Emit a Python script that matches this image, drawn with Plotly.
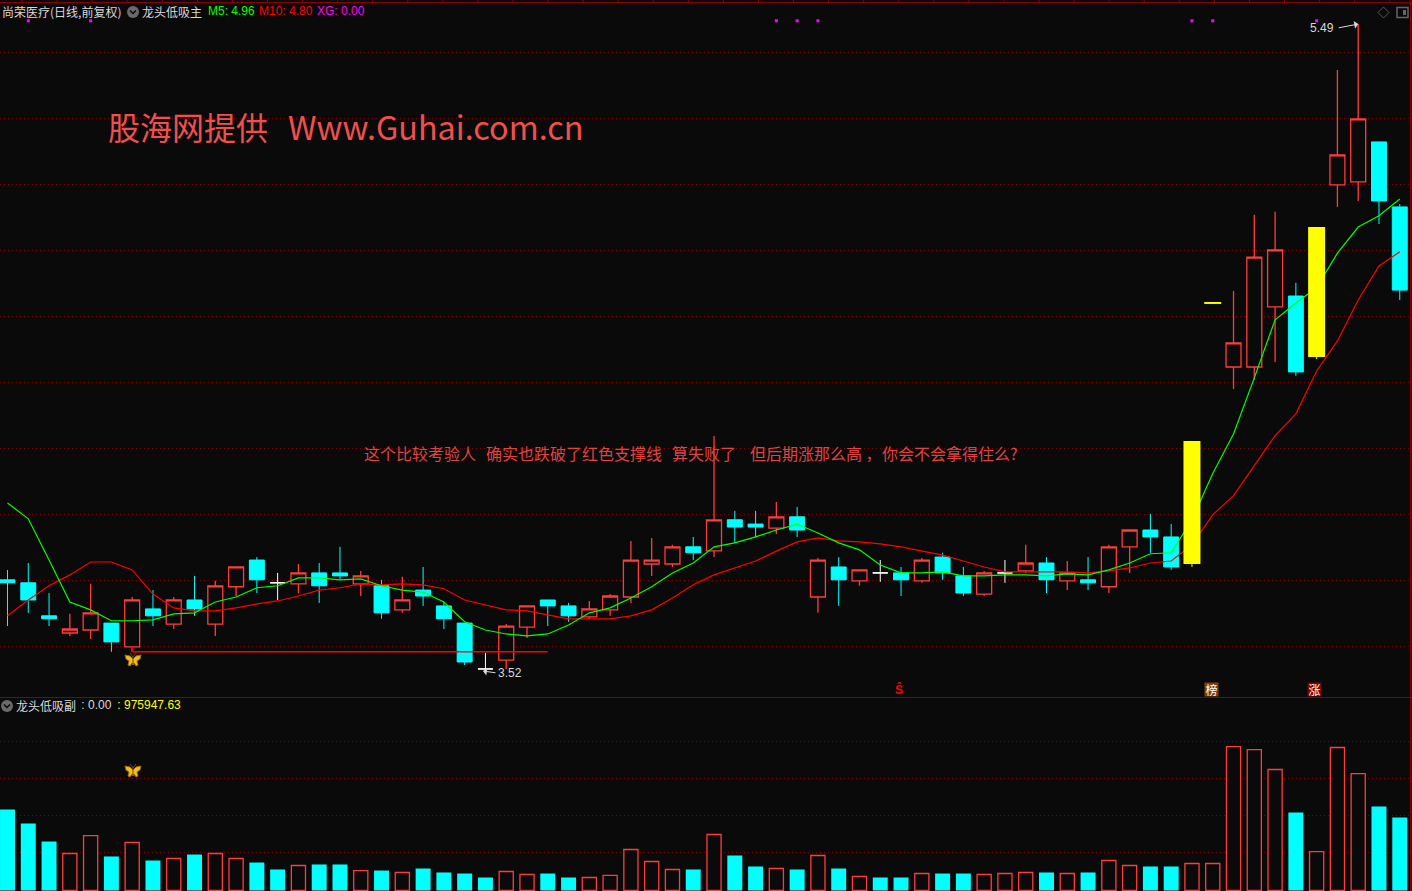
import plotly.graph_objects as go

W, H = 1412, 891
BG = "#0a0a0a"
RED = "#ff3c3c"
CYAN = "#00ffff"
YEL = "#ffff00"
GRID = "#7a0000"

# ---- daily prices ----
opens = [3.799,3.790,3.690,3.638,3.647,3.668,3.596,3.711,3.665,3.738,3.665,3.778,3.859,3.790,3.787,3.820,3.820,3.787,3.781,3.708,
         3.768,3.720,3.668,3.529,3.556,3.656,3.738,3.720,3.687,3.708,3.747,3.847,3.847,3.899,3.887,3.981,3.968,3.956,3.990,3.747,
         3.838,3.796,3.820,3.820,3.796,3.868,3.811,3.756,3.820,3.826,3.850,3.796,3.799,3.778,3.899,3.950,3.929,3.847,4.635,4.444,
         4.444,4.626,4.659,4.474,4.996,5.005,5.126,4.929]
highs = [3.829,3.850,3.759,3.696,3.787,3.668,3.747,3.768,3.747,3.811,3.796,3.838,3.868,3.820,3.847,3.850,3.899,3.826,3.799,3.808,
         3.838,3.732,3.668,3.578,3.665,3.720,3.738,3.729,3.735,3.756,3.917,3.926,3.905,3.929,4.235,4.008,4.008,4.035,4.020,3.865,
         3.868,3.829,3.859,3.838,3.865,3.881,3.838,3.826,3.859,3.905,3.868,3.856,3.868,3.905,3.950,3.999,3.968,4.220,4.641,4.674,
         4.905,4.914,4.699,4.868,5.344,5.483,5.126,4.938]
lows  = [3.659,3.699,3.659,3.629,3.620,3.581,3.581,3.659,3.650,3.690,3.629,3.750,3.759,3.738,3.759,3.729,3.799,3.750,3.681,3.699,
         3.720,3.650,3.541,3.520,3.529,3.623,3.659,3.672,3.681,3.690,3.729,3.811,3.838,3.859,3.868,3.911,3.929,3.938,3.929,3.699,
         3.720,3.781,3.793,3.750,3.790,3.799,3.750,3.750,3.790,3.820,3.759,3.768,3.768,3.759,3.820,3.881,3.829,3.838,4.635,4.377,
         4.405,4.459,4.417,4.468,4.929,4.947,4.877,4.647]
closes = [3.790,3.738,3.681,3.650,3.699,3.611,3.738,3.690,3.738,3.711,3.781,3.838,3.799,3.790,3.820,3.781,3.811,3.811,3.699,3.738,
          3.750,3.681,3.550,3.529,3.659,3.720,3.720,3.690,3.711,3.750,3.859,3.859,3.899,3.881,3.981,3.959,3.959,3.990,3.950,3.859,
          3.799,3.829,3.820,3.799,3.859,3.820,3.759,3.820,3.820,3.850,3.799,3.820,3.790,3.899,3.950,3.929,3.838,4.220,4.641,4.517,
          4.777,4.799,4.429,4.868,5.087,5.196,4.947,4.677]

m5 = [4.032,3.984,3.859,3.732,3.708,3.675,3.675,3.678,3.696,3.699,3.732,3.747,3.775,3.781,3.805,3.805,3.799,3.802,3.781,3.768,
      3.762,3.732,3.672,3.647,3.635,3.629,3.635,3.662,3.699,3.714,3.744,3.778,3.820,3.850,3.899,3.911,3.929,3.950,3.968,3.941,
      3.911,3.890,3.844,3.820,3.820,3.823,3.811,3.811,3.814,3.814,3.811,3.817,3.814,3.829,3.850,3.878,3.881,3.981,4.121,4.241,
      4.411,4.587,4.638,4.684,4.789,4.868,4.902,4.953]
m10 = [3.690,3.738,3.781,3.814,3.853,3.853,3.829,3.756,3.714,3.705,3.705,3.714,3.726,3.735,3.750,3.768,3.775,3.787,3.784,3.787,
       3.784,3.772,3.738,3.723,3.708,3.705,3.693,3.681,3.681,3.681,3.690,3.708,3.744,3.784,3.814,3.835,3.856,3.886,3.914,3.926,
       3.917,3.914,3.908,3.899,3.886,3.874,3.856,3.838,3.823,3.823,3.823,3.823,3.820,3.826,3.835,3.850,3.856,3.905,3.996,4.054,
       4.145,4.236,4.302,4.432,4.523,4.647,4.750,4.793]

# ---- lower panel: volume, in units of 10,000 ----
volumes = [108.3,89.6,65.5,49.5,73.5,45.5,64.2,40.1,42.8,48.1,49.5,42.8,37.4,28.1,33.4,34.8,34.8,26.7,26.7,24.1,
           29.4,24.1,22.7,17.4,25.4,21.4,22.7,17.4,17.4,20.1,54.8,38.8,28.1,28.1,74.9,46.8,32.1,29.4,28.1,46.8,
           29.4,18.7,17.4,17.4,22.7,22.7,22.7,21.4,22.7,24.1,24.1,22.7,24.1,40.1,33.4,32.1,32.1,36.1,36.1,192.5,
           188.5,161.8,104.3,52.1,191.2,156.4,112.3,97.6]
vol_up = [0,0,0,1,1,0,1,0,1,0,1,1,0,0,1,0,0,1,0,1,0,0,0,0,1,1,0,0,1,1,1,1,1,0,1,0,0,1,0,1,0,1,0,0,1,0,0,1,1,1,0,1,0,1,1,0,0,1,1,1,1,1,0,1,1,1,0,0]

# ---- signals ----
yellow_days = [57, 58, 63]
xg_days = [1, 4, 37, 38, 39, 57, 58, 63]
xg_level = 5.493
support_days = [6, 6, 26]
support_vals = [3.596, 3.581, 3.581]
price_grid = [3.596, 3.796, 3.996, 4.196, 4.396, 4.596, 4.796, 4.996, 5.196, 5.396]
vol_grid = [50.8, 100.3, 149.7, 199.2]
S_day = 43

days = list(range(len(closes)))

def pick(idx, arr):
    return [arr[i] for i in idx]

def candle(idx, line, fill, lw=1):
    return go.Candlestick(x=idx, open=pick(idx, opens), high=pick(idx, highs), low=pick(idx, lows), close=pick(idx, closes),
                          increasing=dict(line=dict(color=line, width=lw), fillcolor=fill),
                          decreasing=dict(line=dict(color=line, width=lw), fillcolor=fill),
                          whiskerwidth=0, xaxis="x", yaxis="y", hoverinfo="skip", showlegend=False)

reg = [i for i in days if i not in yellow_days]
up_idx = [i for i in reg if closes[i] > opens[i]]
down_idx = [i for i in reg if closes[i] < opens[i]]
flat_idx = [i for i in reg if closes[i] == opens[i]]

fig = go.Figure()
fig.add_trace(candle(up_idx, RED, BG, 1.3))
fig.add_trace(candle(down_idx, CYAN, CYAN))
fig.add_trace(candle(flat_idx, "#ffffff", "#ffffff"))

fig.add_trace(go.Scatter(x=days, y=m10, mode="lines", line=dict(color="#ff0000", width=1.2), xaxis="x", yaxis="y", hoverinfo="skip"))
fig.add_trace(go.Scatter(x=days, y=m5, mode="lines", line=dict(color="#00ff00", width=1.2), xaxis="x", yaxis="y", hoverinfo="skip"))
fig.add_trace(go.Scatter(x=support_days, y=support_vals, mode="lines", line=dict(color="#ff0000", width=1.5), xaxis="x", yaxis="y", hoverinfo="skip"))

# yellow candles sit on top of the average lines
yx, yy, wx, wy = [], [], [], []
for i in yellow_days:
    yx += [i, i, None]
    yy += [opens[i], closes[i], None]
    wx += [i, i, None]
    wy += [lows[i], highs[i], None]
fig.add_trace(go.Scatter(x=wx, y=wy, mode="lines", line=dict(color=YEL, width=1), xaxis="x", yaxis="y", hoverinfo="skip"))
fig.add_trace(go.Scatter(x=yx, y=yy, mode="lines", line=dict(color=YEL, width=17), xaxis="x", yaxis="y", hoverinfo="skip"))

fig.add_trace(go.Scatter(x=xg_days, y=[xg_level] * len(xg_days), mode="markers",
                         marker=dict(symbol="square", size=3, color="#ff00ff", line=dict(width=0)),
                         xaxis="x", yaxis="y", hoverinfo="skip"))

# lower panel
fig.add_trace(go.Bar(x=days, y=volumes, width=[0.68 if u else 0.72 for u in vol_up],
                     marker=dict(color=[BG if u else CYAN for u in vol_up],
                                 line=dict(color=[RED if u else CYAN for u in vol_up], width=[1.3 if u else 0 for u in vol_up])),
                     xaxis="x2", yaxis="y2", hoverinfo="skip"))

PX0, PXS = 7.5, 20.78
xr = [(0 - PX0) / PXS, (W - PX0) / PXS]

def px(x):
    return x / W

def py(y):
    return 1 - y / H

ann = []
def label(x, y, text, color, size=12, family="Noto Sans CJK SC", **kw):
    d = dict(x=px(x - 2), y=py(y - size / 16), xref="paper", yref="paper", text=text, showarrow=False,
             font=dict(color=color, size=size, family=family), xanchor="left", yanchor="middle")
    d.update(kw)
    ann.append(d)

LAT = "Liberation Sans"
label(2, 12, "尚荣医疗(日线,前复权)", "#d8d8d8")
label(142, 12, "龙头低吸主", "#d8d8d8")
label(208, 12, "M5: 4.96", "#00ff00", family=LAT)
label(259, 12, "M10: 4.80", "#ff0000", family=LAT)
label(317, 12, "XG: 0.00", "#ff00ff", family=LAT)
label(16, 706, "龙头低吸副", "#d8d8d8")
label(78, 706, " : 0.00", "#d8d8d8", family=LAT)
label(114, 706, " : 975947.63", YEL, family=LAT)
label(108, 128, "股海网提供", "#f0504c", size=32)
label(288, 128, "Www.Guhai.com.cn", "#f0504c", size=32.4)
label(364, 454, "这个比较考验人", "#e0443f", size=16)
label(486, 454, "确实也跌破了红色支撑线", "#e0443f", size=16)
label(672, 454, "算失败了", "#e0443f", size=16)
label(750, 454, "但后期涨那么高 ，", "#e0443f", size=16)
label(882, 454, "你会不会拿得住么?", "#e0443f", size=16)
label(498, 674, "3.52", "#d8d8d8", family=LAT)
label(1310, 29, "5.49", "#d8d8d8", family=LAT)
ann.append(dict(x=px(483), y=py(671), xref="paper", yref="paper", ax=14, ay=2, axref="pixel", ayref="pixel",
                text="", showarrow=True, arrowhead=1, arrowsize=1.3, arrowwidth=1, arrowcolor="#d8d8d8"))
ann.append(dict(x=65, y=5.483, xref="x", yref="y", ax=-21, ay=4, axref="pixel", ayref="pixel",
                text="", showarrow=True, arrowhead=1, arrowsize=1.3, arrowwidth=1, arrowcolor="#d8d8d8"))
ann.append(dict(x=S_day, y=3.466, xref="x", yref="y", text="<b>Ŝ</b>", showarrow=False, xshift=-2,
                font=dict(color="#ff0000", size=12, family=LAT)))
for d, t, c, xs in [(58, "榜", "#7a4208", -1), (63, "涨", "#7a0606", -2)]:
    ann.append(dict(x=d, y=3.466, xref="x", yref="y", text=t, showarrow=False, bgcolor=c, width=13, height=13, xshift=xs,
                    borderpad=0, font=dict(color="#ffffff", size=12, family="Noto Sans CJK SC")))

shapes = []
def hline(y, x0=0, x1=W, color="#8a0000", width=1):
    shapes.append(dict(type="line", xref="paper", yref="paper", x0=px(x0), x1=px(x1), y0=py(y), y1=py(y),
                       line=dict(color=color, width=width)))

hline(2.5)
hline(697.5)
shapes.append(dict(type="line", xref="paper", yref="paper", x0=px(1410.5), x1=px(1410.5), y0=py(0), y1=py(H),
                   line=dict(color="#8a0000", width=1)))
for k in range(40):
    xt = 22 + 35.07 * k
    shapes.append(dict(type="line", xref="paper", yref="paper", x0=px(xt), x1=px(xt), y0=py(0), y1=py(2),
                       line=dict(color="#8a0000", width=1)))

def icon(cx, cy):
    shapes.append(dict(type="circle", xref="paper", yref="paper", x0=px(cx - 6), x1=px(cx + 6), y0=py(cy - 6), y1=py(cy + 6),
                       fillcolor="#6a6a6a", line=dict(width=0)))
    shapes.append(dict(type="path", xref="paper", yref="paper",
                       path=f"M {px(cx-3)} {py(cy-1.5)} L {px(cx)} {py(cy+1.5)} L {px(cx+3)} {py(cy-1.5)}",
                       line=dict(color="#0a0a0a", width=1.5)))

icon(133, 12)
icon(7, 706)

def poly(pts):
    return "M " + " L ".join(f"{px(a)} {py(b)}" for a, b in pts) + " Z"

def butterfly(cx, cy):
    wings = [[(0, -1), (-3, -4), (-8, -5), (-7, -1), (-4, 1), (-5, 5), (-3, 6), (-1, 3), (0, 5),
              (1, 3), (3, 6), (5, 5), (4, 1), (7, -1), (8, -5), (3, -4)]]
    for w in wings:
        shapes.append(dict(type="path", xref="paper", yref="paper", path=poly([(cx + a, cy + b) for a, b in w]),
                           fillcolor="#f0bd1e", line=dict(color="#9a6a10", width=1)))
    shapes.append(dict(type="path", xref="paper", yref="paper",
                       path=f"M {px(cx)} {py(cy-3)} L {px(cx)} {py(cy+4)} M {px(cx)} {py(cy-3)} L {px(cx-3)} {py(cy-7)} M {px(cx)} {py(cy-3)} L {px(cx+3)} {py(cy-7)}",
                       line=dict(color="#7a4a10", width=1)))

butterfly(133, 660)
butterfly(133, 771)

# top-right window icons
shapes.append(dict(type="path", xref="paper", yref="paper",
                   path=poly([(1383.5, 7), (1389, 12.5), (1383.5, 18), (1378, 12.5)]), line=dict(color="#555555", width=1)))
shapes.append(dict(type="rect", xref="paper", yref="paper", x0=px(1397), x1=px(1408), y0=py(7.5), y1=py(17.5),
                   line=dict(color="#666666", width=1.5)))
shapes.append(dict(type="rect", xref="paper", yref="paper", x0=px(1403), x1=px(1406), y0=py(10), y1=py(15),
                   fillcolor="#666666", line=dict(width=0)))

fig.update_layout(
    width=W, height=H, margin=dict(l=0, r=0, t=0, b=0), paper_bgcolor=BG, plot_bgcolor=BG,
    showlegend=False, boxgap=0.28, boxgroupgap=0, boxmode="overlay", barmode="overlay",
    xaxis=dict(domain=[0, 1], range=xr, anchor="y", visible=True, showgrid=False, zeroline=False, showticklabels=False,
               ticks="", showline=False, rangeslider=dict(visible=False)),
    yaxis=dict(domain=[1 - 697 / H, 1], range=[3.444, 5.556], anchor="x", showticklabels=False, ticks="", zeroline=False,
               showline=False, showgrid=True, gridcolor=GRID, griddash="1px,3px", gridwidth=1, tickmode="array", tickvals=price_grid),
    xaxis2=dict(domain=[0, 1], range=xr, anchor="y2", showgrid=False, zeroline=False, showticklabels=False, ticks="", showline=False),
    yaxis2=dict(domain=[0, 1 - 698 / H], range=[-0.67, 257.4], anchor="x2", showticklabels=False, ticks="", zeroline=False,
                showline=False, showgrid=True, gridcolor=GRID, griddash="1px,3px", gridwidth=1, tickmode="array", tickvals=vol_grid),
    annotations=ann, shapes=shapes,
)

fig.write_html("out.html", config=dict(displayModeBar=False),
               post_script="document.body.style.margin='0';document.body.style.background='#0a0a0a';document.documentElement.style.overflow='hidden';")
